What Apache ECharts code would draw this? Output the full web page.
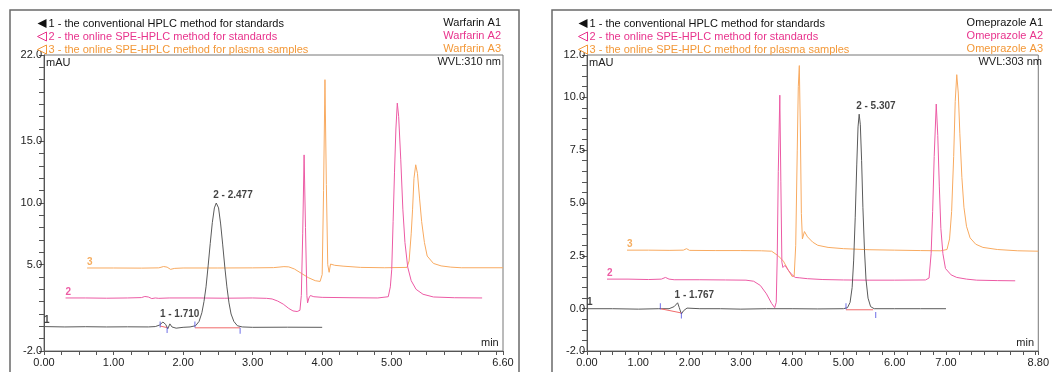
<!DOCTYPE html>
<html>
<head>
<meta charset="utf-8">
<script src="https://cdn.jsdelivr.net/npm/echarts@6/dist/echarts.min.js"></script>
<style>
html, body { margin: 0; padding: 0; background: #fff; }
#chart { width: 1052px; height: 372px; }
</style>
</head>
<body>
<div id="chart"></div>
<script>
// header texts
const methodNames = [
    '1 - the conventional HPLC method for standards',
    '2 - the online SPE-HPLC method for standards',
    '3 - the online SPE-HPLC method for plasma samples'
];
const warfarinSamples = ['Warfarin A1', 'Warfarin A2', 'Warfarin A3'];
const omeprazoleSamples = ['Omeprazole A1', 'Omeprazole A2', 'Omeprazole A3'];

// tick labels
const warfarinXLabels = [0, 1, 2, 3, 4, 5, 6.6];
const warfarinYLabels = [-2, 5, 10, 15, 22];
const omeprazoleXLabels = [0, 1, 2, 3, 4, 5, 6, 7, 8.8];
const omeprazoleYLabels = [-2, 0, 2.5, 5, 7.5, 10, 12];

// Warfarin traces [min, mAU]
const warfarin1 = [[0,-0.02],[0.3,-0.05],[0.6,-0.03],[0.9,-0.05],[1.2,-0.04],[1.5,-0.05],[1.6,-0.02],[1.66,0.1],[1.71,0.35],[1.75,0.15],[1.78,-0.2],[1.81,0.2],[1.84,-0.05],[1.9,-0.15],[2.0,-0.08],[2.1,-0.05],
    [2.18,0.05],[2.23,0.4],[2.27,1.1],[2.30,2.0],[2.33,3.2],[2.36,4.9],[2.39,6.7],[2.42,8.4],[2.45,9.6],[2.477,10.0],[2.51,9.6],[2.54,8.3],[2.57,6.6],[2.60,4.8],[2.63,3.2],[2.66,1.9],[2.69,1.0],[2.73,0.4],[2.78,0.05],[2.85,-0.05],
    [3.0,-0.08],[3.5,-0.07],[4.0,-0.08]];
const warfarin2 = [[0.31,2.3],[0.6,2.3],[0.9,2.28],[1.2,2.3],[1.4,2.33],[1.45,2.42],[1.5,2.38],[1.55,2.25],[1.6,2.3],[1.65,2.27],[1.8,2.3],[2.2,2.3],[2.6,2.28],[3.0,2.3],[3.2,2.27],[3.28,2.22],[3.36,2.05],[3.44,1.8],[3.52,1.45],[3.58,1.25],[3.64,1.2],[3.68,1.3],
    [3.70,2.5],[3.72,7.5],[3.74,13.9],[3.76,8.0],[3.78,2.5],[3.79,1.9],[3.81,2.3],[3.83,2.5],[3.88,2.4],[4.0,2.35],[4.4,2.32],[4.8,2.3],[4.95,2.4],[4.98,3.2],[5.0,4.6],[5.02,8.5],[5.04,12.5],[5.06,16.0],[5.08,18.1],
    [5.10,17.0],[5.13,13.5],[5.16,9.5],[5.19,6.8],[5.23,4.8],[5.28,3.7],[5.35,3.0],[5.45,2.6],[5.6,2.38],[5.9,2.32],[6.3,2.3]];
const warfarin3 = [[0.62,4.73],[1.0,4.73],[1.4,4.72],[1.65,4.74],[1.72,4.85],[1.77,4.8],[1.82,4.62],[1.88,4.7],[2.0,4.73],[2.5,4.73],[3.0,4.74],[3.3,4.76],[3.45,4.84],[3.52,4.82],[3.6,4.65],[3.7,4.3],[3.8,3.95],[3.9,3.7],[3.97,3.64],
    [4.0,4.2],[4.02,11.0],[4.04,20.0],[4.06,11.5],[4.08,5.0],[4.10,4.38],[4.12,5.05],[4.18,4.95],[4.3,4.88],[4.55,4.78],[4.9,4.75],[5.22,4.78],[5.25,5.3],[5.28,7.5],[5.30,9.5],[5.32,12.0],[5.345,13.1],
    [5.37,12.4],[5.40,10.4],[5.43,8.5],[5.47,6.8],[5.51,5.7],[5.6,5.1],[5.71,4.9],[5.85,4.8],[6.0,4.75],[6.6,4.75]];
const warfarinBaselines = [[[1.67,0.02],[1.77,-0.1]], [[2.17,-0.12],[2.82,-0.12]]];
const warfarinMarks = [[1.67,0.15],[1.77,-0.3],[2.17,0.15],[2.82,-0.35]];
const warfarinPeaks = [[1.71,0.35,'1 - 1.710'], [2.477,10.0,'2 - 2.477']];
const warfarinTags = [[0,-0.02,'1'], [0.31,2.3,'2'], [0.62,4.73,'3']];

// Omeprazole traces [min, mAU]
const omeprazole1 = [[0,0],[0.5,0.0],[1.0,-0.02],[1.4,0.0],[1.6,0.0],[1.7,0.1],[1.767,0.28],[1.8,0.05],[1.84,-0.25],[1.88,-0.1],[1.95,0.03],[2.2,0.0],[2.6,0.0],[3.0,-0.02],[3.5,0.0],[4.0,0.0],[4.5,-0.01],[5.0,0.0],
    [5.08,0.05],[5.13,0.3],[5.17,1.0],[5.20,2.3],[5.23,4.3],[5.26,6.8],[5.285,8.6],[5.307,9.2],[5.33,8.7],[5.355,7.0],[5.38,4.8],[5.41,2.8],[5.44,1.4],[5.48,0.5],[5.53,0.1],[5.6,0.0],[6.0,0.0],[6.5,0.0],[7.0,0.0]];
const omeprazole2 = [[0.39,1.4],[0.8,1.4],[1.2,1.38],[1.45,1.4],[1.53,1.48],[1.6,1.4],[1.7,1.37],[2.2,1.37],[2.7,1.36],[3.1,1.35],[3.25,1.3],[3.38,1.1],[3.5,0.7],[3.6,0.25],[3.66,0.05],
    [3.69,0.3],[3.71,2.5],[3.73,6.5],[3.76,10.1],[3.78,6.0],[3.80,2.2],[3.82,1.95],[3.86,2.05],[3.93,1.8],[4.0,1.6],[4.06,1.48],[4.15,1.46],[4.3,1.42],[4.6,1.38],[5.0,1.36],[5.5,1.35],[6.0,1.35],[6.6,1.36],
    [6.67,1.45],[6.71,2.6],[6.74,4.6],[6.77,7.2],[6.81,9.68],[6.84,8.2],[6.87,5.8],[6.90,3.8],[6.94,2.6],[6.99,1.9],[7.1,1.6],[7.21,1.48],[7.4,1.4],[7.6,1.35],[8.0,1.33],[8.35,1.32]];
const omeprazole3 = [[0.78,2.77],[1.2,2.77],[1.6,2.76],[1.88,2.77],[1.94,2.84],[2.0,2.76],[2.5,2.75],[3.0,2.75],[3.4,2.74],[3.6,2.72],[3.73,2.5],[3.83,2.25],[3.92,1.85],[4.0,1.52],[4.04,1.55],
    [4.07,3.0],[4.10,7.5],[4.12,10.5],[4.14,11.5],[4.16,8.5],[4.18,4.5],[4.20,3.3],[4.24,3.65],[4.3,3.4],[4.4,3.15],[4.5,3.0],[4.7,2.9],[5.0,2.84],[5.5,2.79],[6.0,2.77],[6.5,2.75],[6.9,2.74],
    [7.02,2.8],[7.07,3.3],[7.11,4.6],[7.15,7.2],[7.18,9.8],[7.21,11.07],[7.24,10.2],[7.27,8.3],[7.31,6.2],[7.35,4.8],[7.40,3.9],[7.47,3.35],[7.58,3.05],[7.72,2.9],[8.0,2.8],[8.4,2.74],[8.8,2.72]];
const omeprazoleBaselines = [[[1.43,0.0],[1.84,-0.2]], [[5.05,-0.05],[5.58,-0.05]]];
const omeprazoleMarks = [[1.43,0.12],[1.84,-0.32],[5.05,0.12],[5.63,-0.3]];
const omeprazolePeaks = [[1.767,0.28,'1 - 1.767'], [5.307,9.2,'2 - 5.307']];
const omeprazoleTags = [[0,0,'1'], [0.39,1.4,'2'], [0.78,2.77,'3']];

const lineColors = ['#5a5a5a', '#ec5aa4', '#f8aa60'];
const textColors = ['#111111', '#e8338d', '#f39838'];
const font = '"Liberation Sans", Arial, sans-serif';

let chart = echarts.init(document.getElementById('chart'));

const hasLabel = (list, v) => list.some(l => Math.abs(l - v) < 1e-6);

const xAxisFor = (gridIndex, max, labels) => ({
    gridIndex: gridIndex,
    type: 'value',
    min: 0,
    max: max,
    interval: 0.25,
    name: 'min',
    nameLocation: 'end',
    nameGap: -22,
    nameTextStyle: { fontFamily: font, fontSize: 11, color: '#222', verticalAlign: 'bottom', padding: [0, 0, 3, 0] },
    splitLine: { show: false },
    axisLine: { onZero: false, lineStyle: { color: '#555', width: 1 } },
    axisTick: { length: 4, lineStyle: { color: '#555' } },
    axisLabel: {
        fontFamily: font, fontSize: 11, color: '#222', margin: 6,
        formatter: v => hasLabel(labels, v) ? v.toFixed(2) : ''
    }
});

const yAxisFor = (gridIndex, min, max, interval, labels) => ({
    gridIndex: gridIndex,
    type: 'value',
    min: min,
    max: max,
    interval: interval,
    name: 'mAU',
    nameLocation: 'end',
    nameGap: -13,
    nameTextStyle: { fontFamily: font, fontSize: 11, color: '#222', align: 'left', padding: [0, 0, 0, 2] },
    splitLine: { show: false },
    axisLine: { show: true, onZero: false, lineStyle: { color: '#555', width: 1 } },
    axisTick: { length: 5, lineStyle: { color: '#555' } },
    axisLabel: {
        fontFamily: font, fontSize: 11, color: '#222', margin: 2,
        formatter: v => hasLabel(labels, v) ? v.toFixed(1) : ''
    }
});

const series = [];

const addPanel = (idx, traces, baselines, marks, peaks, tags) => {
    traces.forEach((data, i) => {
        series.push({
            name: methodNames[i],
            type: 'line',
            xAxisIndex: idx,
            yAxisIndex: idx,
            data: data,
            showSymbol: false,
            lineStyle: { color: lineColors[i], width: 1 },
            itemStyle: { color: lineColors[i] },
            z: 3 - i
        });
    });
    baselines.forEach(seg => {
        series.push({
            type: 'line', xAxisIndex: idx, yAxisIndex: idx, data: seg,
            showSymbol: false, lineStyle: { color: '#f06a6a', width: 1 }, z: 4
        });
    });
    series.push({
        type: 'scatter', xAxisIndex: idx, yAxisIndex: idx, data: marks,
        symbol: 'rect', symbolSize: [1, 6], itemStyle: { color: '#4a4ae0' }, z: 5
    });
    series.push({
        type: 'scatter', xAxisIndex: idx, yAxisIndex: idx, data: peaks,
        symbolSize: 0,
        label: {
            show: true, position: 'top', align: 'left', distance: 3, offset: [-3, 0],
            fontFamily: font, fontSize: 10, fontWeight: 'bold', color: '#111',
            formatter: p => p.value[2]
        }
    });
    // trace numbers, coloured like their trace
    series.push({
        type: 'scatter', xAxisIndex: idx, yAxisIndex: idx,
        data: tags.map((d, i) => ({ value: d, label: { color: textColors[i] } })),
        symbolSize: 0,
        label: {
            show: true, position: 'top', align: 'left', distance: 1,
            fontFamily: font, fontSize: 10, fontWeight: 'bold',
            formatter: p => p.value[2]
        }
    });
};

addPanel(0, [warfarin1, warfarin2, warfarin3], warfarinBaselines, warfarinMarks, warfarinPeaks, warfarinTags);
addPanel(1, [omeprazole1, omeprazole2, omeprazole3], omeprazoleBaselines, omeprazoleMarks, omeprazolePeaks, omeprazoleTags);

const legendFor = (left) => ({
    left: left,
    top: 13,
    orient: 'vertical',
    itemWidth: 13,
    itemHeight: 9,
    itemGap: 2,
    selectedMode: false,
    textStyle: { fontFamily: font, fontSize: 11, lineHeight: 11, padding: [0, 0, 0, -5] },
    data: methodNames.map((name, i) => ({
        name: name,
        icon: 'path://M10,0L0,5L10,10Z',
        itemStyle: i === 0
            ? { color: '#111', borderWidth: 0 }
            : { color: '#fff', borderColor: textColors[i], borderWidth: 1 },
        textStyle: { color: textColors[i] }
    }))
});

const sampleTexts = (right, names) => names.map((n, i) => ({
    type: 'text',
    right: right,
    top: 17 + i * 13,
    style: { text: n, fill: textColors[i], font: '11px ' + font }
}));

const options = {
    animation: false,
    grid: [
        { left: 44, top: 55, width: 459, height: 296, show: true, borderColor: '#777', borderWidth: 1 },
        { left: 587, top: 55, width: 457, height: 296, show: true, borderColor: '#777', borderWidth: 1 }
    ],
    legend: [legendFor(32), legendFor(573)],
    xAxis: [xAxisFor(0, 6.6, warfarinXLabels), xAxisFor(1, 8.8, omeprazoleXLabels)],
    yAxis: [yAxisFor(0, -2, 22, 1, warfarinYLabels), yAxisFor(1, -2, 12, 0.5, omeprazoleYLabels)],
    series: series,
    graphic: [
        { type: 'rect', shape: { x: 10, y: 10, width: 509, height: 400 }, style: { fill: 'none', stroke: '#6a6a6a', lineWidth: 1.5 }, silent: true },
        { type: 'rect', shape: { x: 552, y: 10, width: 520, height: 400 }, style: { fill: 'none', stroke: '#6a6a6a', lineWidth: 1.5 }, silent: true },
        { type: 'text', right: 551, top: 56, style: { text: 'WVL:310 nm', fill: '#222', font: '11px ' + font } },
        { type: 'text', right: 10, top: 56, style: { text: 'WVL:303 nm', fill: '#222', font: '11px ' + font } }
    ].concat(sampleTexts(551, warfarinSamples), sampleTexts(9, omeprazoleSamples))
};

chart.setOption(options);
</script>
</body>
</html>
